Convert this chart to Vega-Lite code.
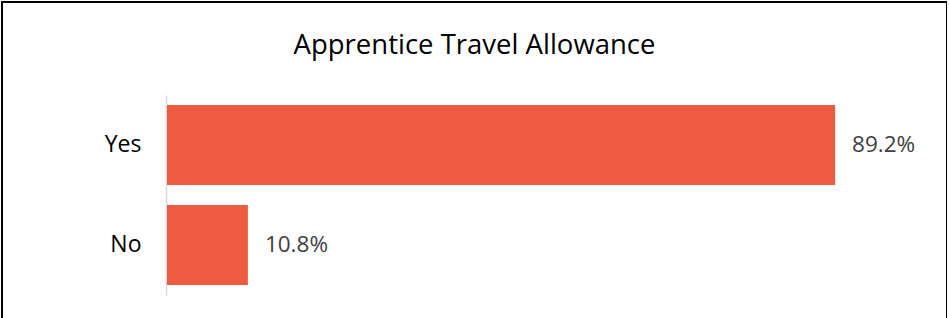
{
  "$schema": "https://vega.github.io/schema/vega-lite/v6.json",
  "autosize": "none",
  "padding": {"left": 2, "top": 2, "right": 0, "bottom": 0},
  "width": 945,
  "height": 330,
  "background": "white",
  "title": {
    "text": "Apprentice Travel Allowance",
    "font": "Open Sans",
    "fontSize": 27.5,
    "fontWeight": "normal",
    "color": "#000000",
    "anchor": "middle",
    "frame": "group",
    "baseline": "alphabetic",
    "offset": -51,
    "dy": 28
  },
  "data": {
    "values": [
      {"Answer": "Yes", "Share": 0.892},
      {"Answer": "No", "Share": 0.108}
    ]
  },
  "encoding": {
    "y": {
      "field": "Answer",
      "type": "nominal",
      "sort": ["Yes", "No"],
      "scale": {"range": [93, 293], "paddingInner": 0.2, "paddingOuter": 0.1},
      "axis": {
        "title": null,
        "offset": -164,
        "domainColor": "#d9d9d9",
        "domainWidth": 1.5,
        "ticks": false,
        "labelPadding": 25,
        "labelFont": "Open Sans",
        "labelFontSize": 23,
        "labelColor": "#000000"
      }
    },
    "x": {
      "field": "Share",
      "type": "quantitative",
      "scale": {"domain": [0, 1], "range": [165, 914], "nice": false, "zero": true},
      "axis": null
    }
  },
  "layer": [
    {"mark": {"type": "bar", "color": "#EF5B40", "cornerRadius": 0}},
    {
      "mark": {"type": "text", "align": "left", "baseline": "middle", "dx": 17, "font": "Open Sans", "fontSize": 22.5, "color": "#404040"},
      "encoding": {"text": {"field": "Share", "type": "quantitative", "format": ".1%"}}
    }
  ],
  "config": {
    "view": {"stroke": "#000000", "strokeWidth": 2}
  }
}
